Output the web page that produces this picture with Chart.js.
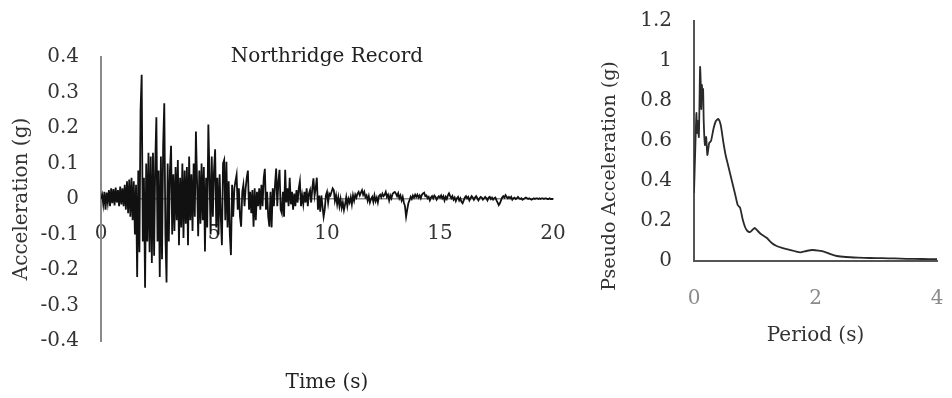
<!DOCTYPE html>
<html>
<head>
<meta charset="utf-8">
<script src="https://cdn.jsdelivr.net/npm/chart.js@4/dist/chart.umd.min.js"></script>
<style>
  html, body { margin: 0; padding: 0; background: #fff; }
  #wrap { position: relative; width: 952px; height: 398px; }
  canvas { position: absolute; top: 0; }
  #record { left: 0; }
  #spectrum { left: 580px; }
</style>
</head>
<body>
<div id="wrap">
  <canvas id="record" width="580" height="398"></canvas>
  <canvas id="spectrum" width="372" height="398"></canvas>
</div>
<script>
// ---- Northridge record, sampled every 0.05 s (one row per second)
const timeStep = 0.05;
const accel = [
	0, 0.012, -0.015, 0.02, -0.03, 0.018, -0.01, 0.025, -0.02, 0.03, -0.012, 0.028, -0.018, 0.032, -0.01, 0.025, -0.02, 0.035, -0.015, 0.03,
	-0.02, 0.04, -0.03, 0.05, -0.04, 0.055, -0.05, 0.06, -0.06, 0.05, -0.1, 0.04, -0.22, 0.08, -0.15, 0.25, 0.35, -0.12, 0.06, -0.25,
	0.1, -0.12, 0.13, -0.15, 0.12, -0.18, 0.13, -0.16, 0.1, 0.23, -0.12, 0.08, -0.22, 0.12, -0.17, 0.15, 0.27, -0.1, -0.235, 0.1,
	-0.12, 0.08, 0.15, -0.1, 0.07, -0.09, 0.09, -0.06, 0.11, -0.13, 0.06, -0.08, 0.1, -0.11, 0.08, -0.07, 0.09, -0.13, 0.12, -0.06,
	0.07, -0.09, 0.1, -0.05, 0.19, 0.05, -0.105, 0.08, -0.07, 0.1, -0.06, 0.09, -0.148, 0.06, -0.08, 0.21, 0.07, -0.1, 0.12, -0.05,
	0.08, 0.14, -0.08, 0.06, -0.1, 0.07, -0.05, -0.13, 0.1, 0.11, -0.06, 0.105, -0.08, 0.05, -0.1, -0.158, 0.04, -0.05, 0.03, 0.05,
	0.068, -0.03, 0.03, -0.05, -0.078, 0.02, 0.04, -0.02, 0.03, 0.06, 0.08, -0.03, 0.02, -0.04, 0.025, -0.078, 0.03, -0.06, 0.02, -0.02,
	0.03, -0.03, 0.04, -0.02, 0.06, 0.085, -0.03, 0.02, -0.05, -0.078, 0.02, -0.08, 0.03, -0.02, 0.04, 0.086, -0.02, 0.05, 0.082, -0.03,
	-0.04, 0.02, -0.05, 0.082, -0.01, 0.03, -0.02, 0.06, -0.015, 0.02, -0.03, 0.015, -0.02, 0.025, -0.01, 0.03, 0.05, -0.02, 0.01, -0.015,
	0.02, -0.01, 0.03, -0.02, 0.015, 0.025, -0.01, 0.03, 0.058, 0.01, 0.03, 0.06, -0.03, 0.01, -0.036, 0.01, -0.02, -0.05, -0.03, 0.01,
	0.02, -0.01, 0.015, 0.01, 0.02, 0.03, 0.025, -0.005, 0.01, -0.015, 0.005, -0.02, 0, -0.025, -0.01, -0.031, -0.015, 0.005, -0.02, 0,
	-0.01, 0.005, -0.015, 0.01, -0.005, 0.012, 0.004, 0.015, 0.02, 0.01, 0.018, 0.025, 0.012, 0.02, 0.005, 0.01, -0.005, 0.008, -0.01, 0,
	0.006, -0.008, 0.01, -0.006, 0.004, -0.01, 0.008, 0.012, 0.005, 0.015, 0.008, 0.012, 0.02, 0.006, 0.012, -0.004, 0.01, 0.002, 0.014, 0.018,
	0.02, 0.015, 0.008, 0.016, 0.002, 0.01, -0.004, 0.006, -0.01, -0.02, -0.05, -0.03, -0.012, -0.004, 0.006, 0, 0.01, 0.004, 0.012, 0.006,
	0.012, 0.004, 0.01, 0.002, 0.012, 0.016, 0.018, 0.008, 0.01, 0.002, 0.006, -0.004, 0.004, 0.008, 0.002, 0.01, 0.006, -0.002, 0.004, 0.008,
	0.004, 0.01, 0.002, 0.008, -0.004, 0.006, 0, 0.01, 0.016, 0.008, 0.002, 0.008, -0.002, 0.004, -0.006, 0.002, 0.006, -0.004, 0.002, -0.008,
	-0.012, -0.004, 0.004, 0.008, 0.002, 0.006, -0.004, 0.002, 0.008, 0.004, -0.002, 0.004, 0.008, 0.002, -0.004, 0.002, 0.006, 0.004, -0.002, 0.002,
	0.006, 0.002, -0.004, 0.004, 0.006, 0, 0.004, -0.002, 0.002, 0.004, -0.004, -0.01, -0.017, -0.012, -0.004, 0.004, 0.008, 0.004, 0.011, 0.006,
	0.002, 0.006, 0.002, 0.006, -0.002, 0.002, 0.004, 0, 0.002, 0.006, 0.002, 0, 0.002, -0.002, 0, 0.002, 0.004, 0.002, 0, 0.002,
	0, -0.002, 0, 0.002, 0, 0.002, 0.002, 0, 0.002, 0, 0.002, 0.002, 0, 0.002, 0.002, 0, 0, 0.002, 0, 0,
	0
];
const timeTicks = [ 0, 5, 10, 15, 20 ];
const accelTicks = [ -0.4, -0.3, -0.2, -0.1, 0, 0.1, 0.2, 0.3, 0.4 ];

// ---- Response spectrum
const periods = [
	0, 0.02, 0.04, 0.05, 0.06, 0.08, 0.1, 0.11, 0.12, 0.13, 0.14, 0.15, 0.16, 0.18, 0.2, 0.22, 0.25, 0.28,
	0.32, 0.36, 0.4, 0.44, 0.48, 0.52, 0.56, 0.6, 0.64, 0.68, 0.72, 0.76, 0.8, 0.84, 0.88, 0.92, 0.96, 1,
	1.05, 1.1, 1.15, 1.2, 1.28, 1.36, 1.45, 1.55, 1.65, 1.75, 1.85, 1.95, 2.05, 2.15, 2.25, 2.35, 2.5,
	2.7, 2.9, 3.1, 3.3, 3.5, 3.75, 4
];
const pseudoAccel = [
	0.34, 0.55, 0.74, 0.64, 0.7, 0.62, 0.97, 0.9, 0.76, 0.88, 0.82, 0.86, 0.7, 0.58, 0.62, 0.53, 0.59, 0.6,
	0.66, 0.7, 0.71, 0.68, 0.6, 0.53, 0.48, 0.43, 0.38, 0.33, 0.28, 0.265, 0.21, 0.17, 0.15, 0.145, 0.155, 0.165,
	0.15, 0.135, 0.125, 0.115, 0.09, 0.075, 0.066, 0.058, 0.05, 0.043, 0.05, 0.055, 0.052, 0.046, 0.034, 0.025, 0.02,
	0.017, 0.015, 0.014, 0.013, 0.011, 0.01, 0.009
];
const periodTicks = [ 0, 2, 4 ];
const saTicks = [ 0, 0.2, 0.4, 0.6, 0.8, 1, 1.2 ];

Chart.defaults.font.family = "'DejaVu Serif', serif";
Chart.defaults.font.size = 20;
Chart.defaults.color = '#333';

function fixedTicks( list ) {
	return ( scale ) => {
		scale.ticks = list.map( ( v ) => ( { value: v } ) );
	};
}

// tick padding would otherwise push the plot area in from the edges
function noEdgePadding( scale ) {
	scale.paddingLeft = 0;
	scale.paddingRight = 0;
	scale.paddingTop = 0;
	scale.paddingBottom = 0;
}

// rotated axis title that is not centred on the plot area
const sideTitle = {
	id: 'sideTitle',
	afterDraw( chart, args, opts ) {
		if ( !opts.text ) {
			return;
		}
		const ctx = chart.ctx;
		ctx.save();
		ctx.translate( opts.x, opts.y );
		ctx.rotate( -Math.PI / 2 );
		ctx.font = opts.font;
		ctx.fillStyle = opts.color;
		ctx.textAlign = 'center';
		ctx.textBaseline = 'middle';
		ctx.fillText( opts.text, 0, 0 );
		ctx.restore();
	}
};

// ---- Left: acceleration record
new Chart( document.getElementById( 'record' ), {
	type: 'line',
	data: {
		datasets: [ {
			data: accel.map( ( v, i ) => ( { x: i * timeStep, y: v } ) ),
			borderColor: '#111',
			borderWidth: 1.8,
			pointRadius: 0,
			tension: 0
		} ]
	},
	options: {
		responsive: false,
		animation: false,
		devicePixelRatio: 1,
		layout: { padding: { left: 0, right: 27, top: 0, bottom: 0 } },
		plugins: {
			legend: { display: false },
			tooltip: { enabled: false },
			title: {
				display: true,
				text: 'Northridge Record',
				fullSize: false,
				color: '#222',
				font: { size: 20, weight: 'normal' },
				padding: { top: 45, bottom: -12 }
			},
			subtitle: {
				display: true,
				text: 'Time (s)',
				position: 'bottom',
				fullSize: false,
				color: '#222',
				font: { size: 20 },
				padding: { top: 30, bottom: 3 }
			}
		},
		scales: {
			x: {
				type: 'linear',
				position: { y: 0 },
				min: 0,
				max: 20,
				afterBuildTicks: fixedTicks( timeTicks ),
				afterFit: noEdgePadding,
				grid: { display: false, drawTicks: false },
				border: { display: true, color: '#8a8a8a', width: 1.5 },
				ticks: { padding: 23, color: '#333', maxRotation: 0, callback: ( v ) => String( v ) }
			},
			y: {
				min: -0.4,
				max: 0.4,
				afterBuildTicks: fixedTicks( accelTicks ),
				afterFit: ( scale ) => {
					noEdgePadding( scale );
					scale.width = 101;
				},
				grid: { display: false, drawTicks: false },
				border: { display: true, color: '#8a8a8a', width: 2 },
				ticks: { padding: 22, color: '#333', callback: ( v ) => String( v ) },
				title: {
					display: true,
					text: 'Acceleration (g)',
					color: '#333',
					padding: { top: 10, bottom: 0 }
				}
			}
		}
	}
} );

// ---- Right: pseudo acceleration spectrum
new Chart( document.getElementById( 'spectrum' ), {
	type: 'line',
	data: {
		datasets: [ {
			data: periods.map( ( t, i ) => ( { x: t, y: pseudoAccel[ i ] } ) ),
			borderColor: '#2a2a2a',
			borderWidth: 1.8,
			pointRadius: 0,
			tension: 0.2
		} ]
	},
	plugins: [ sideTitle ],
	options: {
		responsive: false,
		animation: false,
		devicePixelRatio: 1,
		layout: { padding: { left: 0, right: 15, top: 21, bottom: 0 } },
		plugins: {
			legend: { display: false },
			tooltip: { enabled: false },
			sideTitle: {
				text: 'Pseudo Acceleration (g)',
				x: 30,
				y: 176,
				font: "19px 'DejaVu Serif', serif",
				color: '#333'
			}
		},
		scales: {
			x: {
				type: 'linear',
				min: 0,
				max: 4,
				afterBuildTicks: fixedTicks( periodTicks ),
				afterFit: ( scale ) => {
					noEdgePadding( scale );
					scale.height = 137;
				},
				grid: { display: false, drawTicks: false },
				border: { display: true, color: '#555', width: 2 },
				ticks: { padding: 26, color: '#8a8a8a', maxRotation: 0, callback: ( v ) => String( v ) },
				title: {
					display: true,
					text: 'Period (s)',
					color: '#333',
					padding: { top: 0, bottom: 50 }
				}
			},
			y: {
				min: 0,
				max: 1.2,
				afterBuildTicks: fixedTicks( saTicks ),
				afterFit: ( scale ) => {
					noEdgePadding( scale );
					scale.width = 114;
				},
				grid: { display: false, drawTicks: false },
				border: { display: true, color: '#555', width: 2 },
				ticks: { padding: 22, color: '#333', callback: ( v ) => String( v ) }
			}
		}
	}
} );
</script>
</body>
</html>
